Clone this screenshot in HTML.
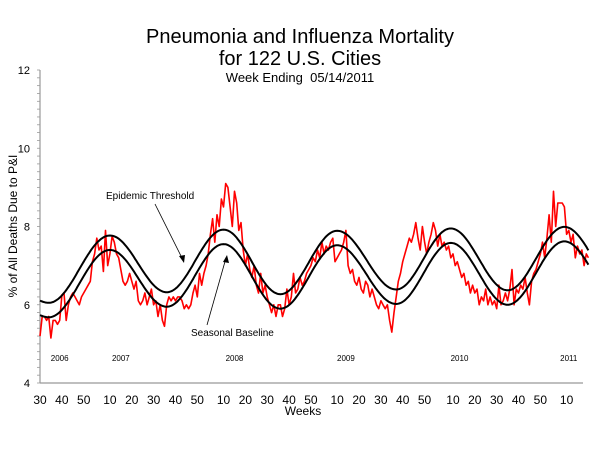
<!DOCTYPE html>
<html><head><meta charset="utf-8"><style>
body{margin:0;background:#fff;}
svg text{font-family:"Liberation Sans",Arial,sans-serif;}
</style></head><body>
<svg id="chart" width="600" height="450" viewBox="0 0 600 450" xmlns="http://www.w3.org/2000/svg">
<text x="300" y="43" font-size="20" text-anchor="middle">Pneumonia and Influenza Mortality</text>
<text x="300" y="65" font-size="20" text-anchor="middle">for 122 U.S. Cities</text>
<text x="300" y="82" font-size="13" text-anchor="middle">Week Ending&#160; 05/14/2011</text>
<text transform="translate(17,226) rotate(-90)" font-size="12" text-anchor="middle">% of All Deaths Due to P&amp;I</text>
<text x="303" y="415" font-size="12" text-anchor="middle">Weeks</text>
<g id="axes"></g>
<g id="series"></g>
<text x="106" y="199" font-size="10">Epidemic Threshold</text>
<line x1="155" y1="204" x2="183" y2="260" stroke="#000" stroke-width="0.8"/>
<polygon points="184,263 179,256 185,255" fill="#000"/>
<text x="191" y="336" font-size="10">Seasonal Baseline</text>
<line x1="207" y1="325" x2="226" y2="258" stroke="#000" stroke-width="0.8"/>
<polygon points="227,255 223,262 229,263" fill="#000"/>
</svg>
<script>
const pi = [5.2,5.7,5.7,5.6,5.7,5.15,5.6,5.6,5.5,5.6,6.25,6.3,5.6,6.0,6.2,6.3,6.2,6.1,6.0,6.2,6.3,6.4,6.5,
6.6,7.1,7.3,7.7,7.4,7.5,6.85,7.9,
7.0,7.3,7.75,7.6,7.3,7.2,6.9,6.6,6.5,6.6,6.8,6.6,6.4,6.6,6.1,6.0,6.1,6.3,6.0,6.2,6.4,6.0,6.1,5.7,6.0,5.6,5.45,
6.0,6.2,6.1,6.2,6.1,6.2,6.2,6.1,5.9,6.0,5.9,6.0,6.3,6.5,6.2,6.8,6.5,6.8,7.0,7.3,7.8,8.2,7.6,8.3,8.0,8.7,8.5,9.1,
9.0,8.5,8.0,8.9,8.6,7.9,8.1,7.4,7.0,7.3,6.9,6.7,7.0,6.5,6.3,6.8,
6.3,6.5,6.2,6.0,5.8,6.0,5.7,6.0,6.0,5.7,5.9,6.4,6.0,6.2,6.8,6.3,6.4,6.7,6.5,6.6,
6.8,6.9,7.0,7.2,7.1,7.4,7.2,7.6,7.3,7.5,7.4,7.6,7.7,7.1,
7.2,7.3,7.4,7.6,7.9,7.0,6.8,6.9,6.6,6.5,
6.7,6.4,6.3,6.6,6.5,6.2,6.4,6.2,6.0,5.9,6.1,6.0,5.9,6.0,5.6,
5.3,5.8,6.2,6.6,6.8,7.1,7.3,7.5,7.7,7.6,
7.8,8.1,7.7,7.4,8.0,7.6,7.3,7.6,7.8,8.1,7.9,7.5,7.8,7.5,7.6,7.4,7.5,7.2,7.3,7.0,
7.1,6.9,6.7,6.8,6.5,6.6,6.3,6.5,6.3,6.4,6.0,6.2,6.1,6.4,6.0,6.2,6.0,6.1,5.9,6.5,6.0,6.1,6.3,6.1,6.4,
6.9,6.0,6.4,6.3,6.5,6.4,6.7,6.3,6.0,6.6,6.8,6.9,7.1,7.3,7.6,7.2,
7.7,8.3,7.6,8.9,8.0,8.6,8.6,8.6,8.5,7.8,7.9,7.6,7.8,7.2,7.5,7.3,7.4,7.0,7.3,7.2];
// baseline extremes: week index and value (peaks & troughs)
const baseWeeks = [-8, 4, 32, 58, 84, 110, 136, 163, 188, 214, 240, 266];
const baseValues = [5.9, 5.68, 7.4, 5.95, 7.55, 5.9, 7.52, 6.02, 7.58, 6.0, 7.62, 6.05];
const thresholdOffset = [0.37];
const yTicks = [4,6,8,10,12];
const xTickLabels = ["30","40","50","10","20","30","40","50","10","20","30","40","50","10","20","30","40","50","10","20","30","40","50","10"];
const xTickWeeks = [0,10,20,32,42,52,62,72,84,94,104,114,124,136,146,156,166,176,189,199,209,219,229,241];
const yearLabels = ["2006","2007","2008","2009","2010","2011"];
const yearWeeks = [9,37,89,140,192,242];

const NS="http://www.w3.org/2000/svg";
const X0=40,X1=583,Y0=383,Y1=70;
const xs=i=>X0+i*2.185;
const ys=v=>Y0-(v-4)*(Y0-Y1)/8;
function mk(t,a,p){const e=document.createElementNS(NS,t);for(const k in a)e.setAttribute(k,a[k]);p.appendChild(e);return e;}
const axes=document.getElementById('axes'), ser=document.getElementById('series');

const ya=mk('line',{x1:X0,y1:Y1,x2:X0,y2:Y0,stroke:'#999','stroke-width':1.2},axes);


const xa=mk('line',{x1:X0,y1:Y0,x2:X1,y2:Y0,stroke:'#999','stroke-width':1.2},axes);


for(let v=4;v<=12.001;v+=0.2){
  const mt=mk('line',{x1:X0-3,y1:ys(v),x2:X0,y2:ys(v),stroke:'#999','stroke-width':0.8},axes);
  
  
}
yTicks.forEach(v=>{
  const t=mk('text',{x:X0-10,y:ys(v)+4,'font-size':11,'text-anchor':'end'},axes);t.textContent=v;
  
  
});
xTickLabels.forEach((l,k)=>{
  const t=mk('text',{x:xs(xTickWeeks[k]),y:404,'font-size':12,'text-anchor':'middle'},axes);t.textContent=l;
  
  
});
yearLabels.forEach((l,k)=>{
  const t=mk('text',{x:xs(yearWeeks[k]),y:361,'font-size':8,'text-anchor':'middle'},axes);t.textContent=l;
  
  
});

function baseAt(w){
  for(let k=0;k<baseWeeks.length-1;k++){
    if(w>=baseWeeks[k]&&w<=baseWeeks[k+1]){
      const f=(w-baseWeeks[k])/(baseWeeks[k+1]-baseWeeks[k]);
      const s=(1-Math.cos(Math.PI*f))/2;
      return baseValues[k]+(baseValues[k+1]-baseValues[k])*s;
    }
  }
  return baseValues[baseValues.length-1];
}
const nW=pi.length;
let d1='',d2='';
for(let w=0;w<=nW-1;w+=0.5){
  const b=baseAt(w);
  d1+=(w?'L':'M')+xs(w).toFixed(1)+','+ys(b).toFixed(1);
  d2+=(w?'L':'M')+xs(w).toFixed(1)+','+ys(b+thresholdOffset[0]).toFixed(1);
}
let d3='';
pi.forEach((v,i)=>{d3+=(i?'L':'M')+xs(i).toFixed(1)+','+ys(v).toFixed(1);});
const pl=mk('path',{d:d3,fill:'none',stroke:'#ff0000','stroke-width':1.6,'stroke-linejoin':'round'},ser);


const bl=mk('path',{d:d1,fill:'none',stroke:'#000','stroke-width':2},ser);


const tl=mk('path',{d:d2,fill:'none',stroke:'#000','stroke-width':2},ser);


</script>
</body></html>
